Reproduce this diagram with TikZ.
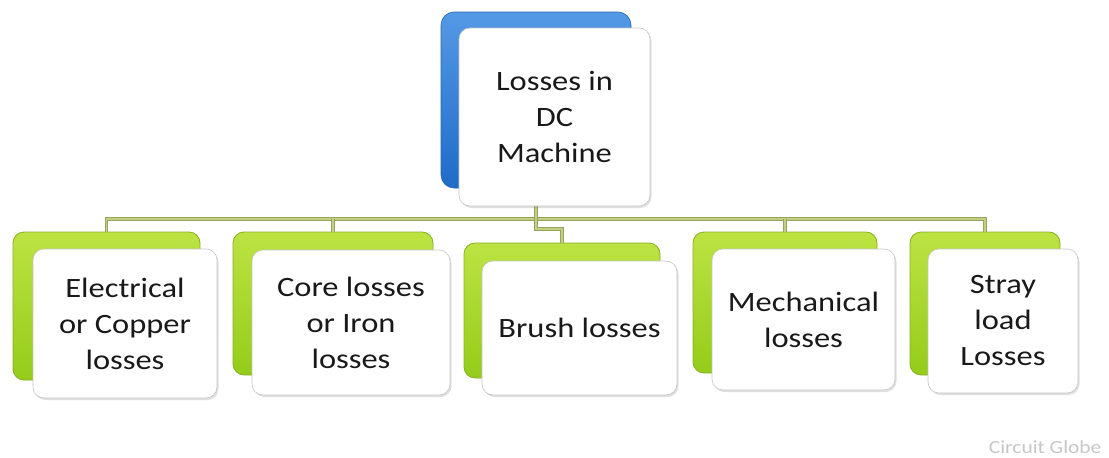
\documentclass[tikz,border=0pt]{standalone}
\usepackage{fontspec}
\setmainfont{Carlito}[FakeStretch=1.16]
\usetikzlibrary{shadows}
\definecolor{linedark}{rgb}{0.60,0.64,0.38}
\definecolor{linelight}{rgb}{0.76,0.81,0.50}
\definecolor{greentop}{rgb}{0.74,0.89,0.26}
\definecolor{greenbot}{rgb}{0.58,0.80,0.10}
\definecolor{greenedge}{rgb}{0.53,0.69,0.14}
\definecolor{bluetop}{rgb}{0.33,0.60,0.90}
\definecolor{bluebot}{rgb}{0.12,0.42,0.78}
\definecolor{blueedge}{rgb}{0.15,0.40,0.70}
\tikzset{
  backgreen/.style={rectangle, rounded corners=11pt, inner sep=0pt, draw=greenedge, line width=0.8pt, top color=greentop, bottom color=greenbot},
  backblue/.style={rectangle, rounded corners=13pt, inner sep=0pt, draw=blueedge, line width=0.6pt, top color=bluetop, bottom color=bluebot},
  front/.style={rectangle, rounded corners=11pt, inner sep=0pt, draw=gray!45, line width=0.6pt, fill=white, align=center,
    font=\fontsize{28}{36}\selectfont, text=black!90,
    drop shadow={shadow xshift=1.5pt, shadow yshift=-2pt, opacity=0.25, fill=gray}},
  conn/.style={draw=linedark, line width=0.8pt, double=linelight, double distance=1.6pt}
}
\begin{document}
\begin{tikzpicture}[x=1pt,y=-1pt]
\useasboundingbox (0,0) rectangle (1109,458);
% back boxes
\node[backblue, minimum width=190pt, minimum height=176pt] (topback) at (536,100) {};
\node[backgreen, minimum width=187pt, minimum height=148pt] (b1back) at (106.5,306) {};
\node[backgreen, minimum width=200pt, minimum height=143pt] (b2back) at (333,303.5) {};
\node[backgreen, minimum width=196pt, minimum height=135pt] (b3back) at (562,310.5) {};
\node[backgreen, minimum width=184pt, minimum height=141pt] (b4back) at (785,302.5) {};
\node[backgreen, minimum width=150pt, minimum height=143pt] (b5back) at (985,303.5) {};
% connectors
\coordinate (bus) at (0,219);
\coordinate (jog) at (0,229);
\draw[conn] (b1back.north) -- (b1back.north |- bus) -- (b5back.north |- bus) -- (b5back.north);
\draw[conn] (topback.south) -- (topback.south |- bus);
\draw[conn] (b2back.north) -- (b2back.north |- bus);
\draw[conn] (b4back.north) -- (b4back.north |- bus);
\draw[conn] (topback.south |- bus) -- (topback.south |- jog) -- (b3back.north |- jog) -- (b3back.north);
% front boxes
\node[front, minimum width=191pt, minimum height=178pt] (top) at (554.5,117) {Losses in\\DC\\Machine};
\node[front, minimum width=184pt, minimum height=149pt] (b1) at (125,323.5) {Electrical\\or Copper\\losses};
\node[front, minimum width=198pt, minimum height=145pt] (b2) at (351,322.5) {Core losses\\or Iron\\losses};
\node[front, minimum width=195pt, minimum height=134pt] (b3) at (579.5,328) {Brush losses};
\node[front, minimum width=183pt, minimum height=141pt] (b4) at (803.5,319.5) {Mechanical\\losses};
\node[front, minimum width=150pt, minimum height=144pt] (b5) at (1003,321) {Stray\\load\\Losses};
% watermark
\node[text=gray!45, font=\fontsize{18.5}{20}\selectfont, anchor=east] (wm) at (1105,447) {Circuit Globe};
\end{tikzpicture}
\end{document}
